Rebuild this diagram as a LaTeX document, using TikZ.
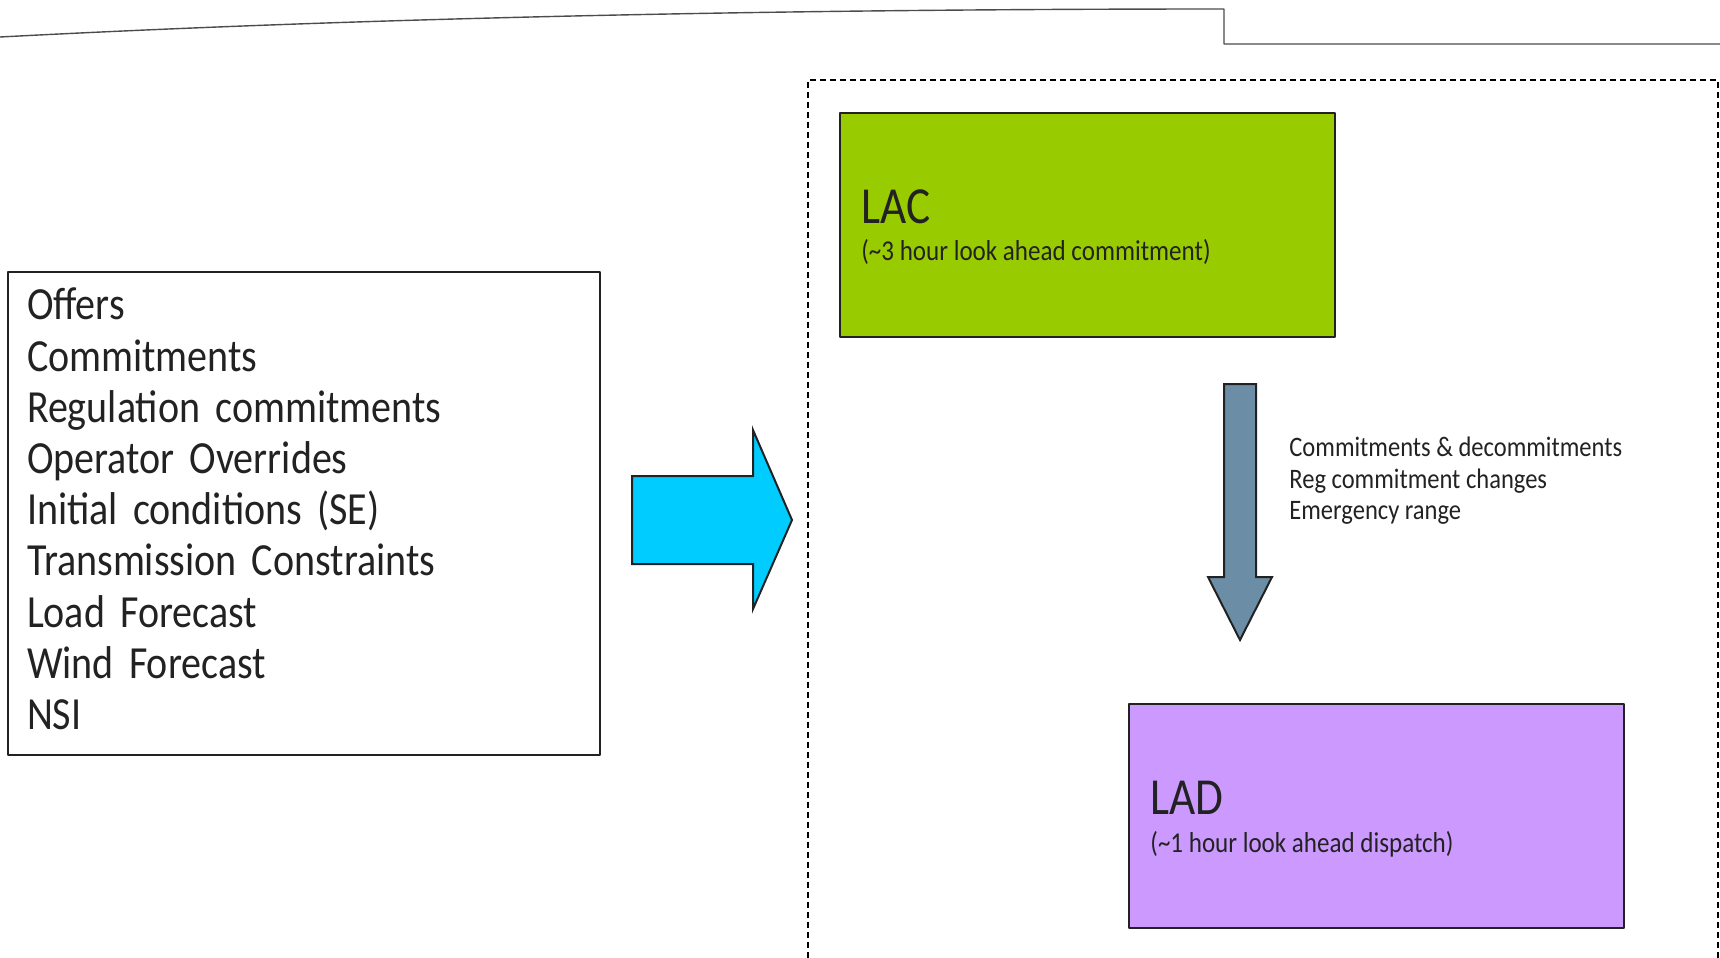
\documentclass[tikz,border=0pt]{standalone}
\usepackage{fontspec}
\setmainfont{Carlito}[FakeStretch=0.87]
\newfontfamily\listfont{Carlito}[FakeStretch=0.87, WordSpace=0.5]
\usetikzlibrary{positioning}

\definecolor{lacgreen}{HTML}{99CC00}
\definecolor{ladpurple}{HTML}{CC99FF}
\definecolor{feedcyan}{HTML}{00CCFF}
\definecolor{passslate}{HTML}{6B8EA6}
\definecolor{inkgray}{HTML}{222222}

\tikzset{
  stagebox/.style={draw=inkgray, line width=1pt, anchor=north west,
    minimum width=247.5pt, minimum height=112pt},
  stagename/.style={anchor=base west, inner sep=0pt, text=inkgray,
    font=\fontsize{26}{30}\selectfont},
  stagenote/.style={anchor=base west, inner sep=0pt, text=inkgray,
    font=\fontsize{14.4}{17}\selectfont},
  blockarrow/.style={draw=inkgray, line width=1pt, line join=miter}
}

\begin{document}
\begin{tikzpicture}[x=0.5pt,y=-0.5pt,join=round] % RTO look ahead chain
        \useasboundingbox (0,0) rectangle (1720,958);
        % header rule
        \draw[line width=0.7pt, draw=black!70] (0,37) .. controls (380,17) and (800,9) .. (1224,9)
                -- (1224,44) -- (1720,44);
        % look ahead frame
        \draw[line width=0.8pt, dash pattern=on 3pt off 2pt] (808,958) -- (808,80) -- (1718,80) -- (1718,958);
        % inputs
        \node[draw=inkgray, line width=1pt, minimum width=296pt, minimum height=241.5pt] (inputs) at (304,513.5) {};
        \node[inner sep=0pt, text width=277pt, align=left, text=inkgray,
              font=\listfont\fontsize{23}{25.6}\selectfont] (inlist) at (304,509)
              {Offers\\Commitments\\Regulation commitments\\Operator Overrides\\Initial conditions (SE)\\Transmission Constraints\\Load Forecast\\Wind Forecast\\NSI};
        \filldraw[blockarrow, fill=feedcyan](632,476)--(753,476)--(753,430)--(792,520)--(753,609)--(753,564)--(632,564)--cycle;
        % stages
        \node[stagebox, fill=lacgreen] (lac) at (839,112) {};
        \node[stagename] (lacname) at (861,223) {LAC};
        \node[stagenote] (lacnote) at (861,260) {(\textasciitilde3 hour look ahead commitment)};
        \filldraw[blockarrow, fill=passslate](1224,384)--(1256,384)--(1256,577)--(1272,577)--(1240,640)--(1208,577)--(1224,577)--cycle;
        \node[anchor=west, align=left, inner sep=0pt, text=inkgray,
              font=\fontsize{14.1}{15.75}\selectfont] (handoff) at (1289,481)
              {Commitments \& decommitments\\Reg commitment changes\\Emergency range};
        \node[stagebox, fill=ladpurple] (lad) at (1128,703) {};
        \node[stagename] (ladname) at (1150,814) {LAD};
        \node[stagenote] (ladnote) at (1150,852) {(\textasciitilde1 hour look ahead dispatch)};
\end{tikzpicture}
\end{document}
